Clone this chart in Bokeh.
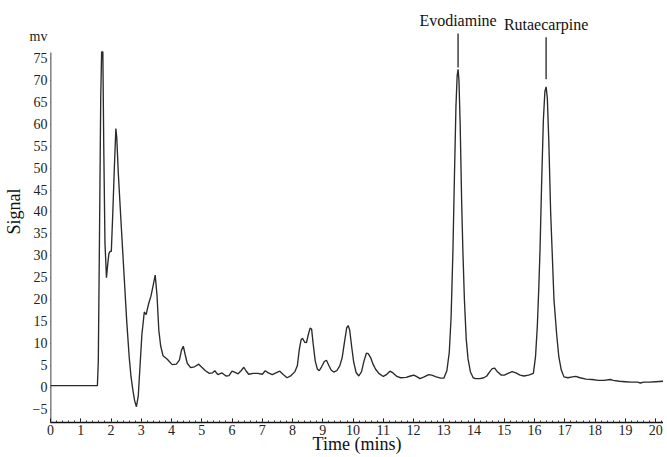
from bokeh.plotting import figure
from bokeh.models import Range1d, FixedTicker, LinearAxis
from bokeh.core.properties import value
from bokeh.embed import file_html
from bokeh.resources import INLINE

# ---- data: chromatogram trace (time in minutes, signal in mV) ----
time_min = [
    0.0, 1.55, 1.58, 1.62, 1.66, 1.69, 1.73, 1.76, 1.80, 1.85, 1.89, 1.93, 1.97, 2.01,
    2.06, 2.11, 2.16, 2.19, 2.24, 2.32, 2.42, 2.52, 2.60, 2.66, 2.72, 2.78, 2.84, 2.90,
    2.96, 3.02, 3.10, 3.16, 3.24, 3.32, 3.40, 3.46, 3.52, 3.58, 3.64, 3.72, 3.86, 4.02,
    4.16, 4.26, 4.33, 4.39, 4.45, 4.52, 4.63, 4.76, 4.90, 5.00, 5.12, 5.25, 5.35, 5.43,
    5.53, 5.67, 5.80, 5.90, 6.00, 6.10, 6.20, 6.30, 6.39, 6.46, 6.55, 6.70, 6.85, 7.00,
    7.10, 7.20, 7.33, 7.45, 7.58, 7.70, 7.82, 7.95, 8.08, 8.16, 8.22, 8.28, 8.33, 8.40,
    8.46, 8.52, 8.58, 8.63, 8.68, 8.75, 8.82, 8.88, 8.96, 9.05, 9.12, 9.20, 9.28, 9.36,
    9.46, 9.56, 9.64, 9.72, 9.79, 9.84, 9.89, 9.95, 10.02, 10.10, 10.19, 10.28, 10.36,
    10.44, 10.50, 10.58, 10.66, 10.74, 10.85, 11.00, 11.10, 11.22, 11.32, 11.45, 11.57,
    11.75, 11.90, 12.01, 12.12, 12.21, 12.35, 12.50, 12.60, 12.75, 12.90, 13.00, 13.10,
    13.18, 13.24, 13.30, 13.35, 13.40, 13.44, 13.47, 13.50, 13.54, 13.59, 13.63, 13.68,
    13.74, 13.80, 13.88, 13.97, 14.05, 14.20, 14.32, 14.42, 14.52, 14.60, 14.68, 14.78,
    14.90, 15.00, 15.12, 15.26, 15.38, 15.52, 15.65, 15.80, 15.96, 16.03, 16.09, 16.14,
    16.18, 16.23, 16.29, 16.34, 16.38, 16.42, 16.47, 16.53, 16.58, 16.64, 16.73, 16.80,
    16.88, 16.97, 17.10, 17.25, 17.36, 17.50, 17.70, 17.90, 18.10, 18.30, 18.50, 18.60,
    18.80, 19.00, 19.20, 19.40, 19.50, 19.60, 19.80, 20.00, 20.26,
]
signal_mv = [
    0.4, 0.4, 6, 35, 66, 76.5, 76.5, 55, 33, 25, 28, 30.5, 31, 31,
    40, 50, 59, 57, 49, 39, 27, 15, 7, 2.5, -0.5, -3, -4.4, -2,
    5, 12, 17.2, 16.6, 19, 20.8, 23.5, 25.6, 21, 13, 9.5, 7.2, 6.4, 5.2,
    5.3, 6.2, 8.5, 9.4, 7.5, 5.5, 4.5, 4.7, 5.3, 4.6, 3.8, 3.2, 3.3, 3.8,
    2.9, 3.3, 2.6, 2.7, 3.7, 3.4, 3.1, 3.8, 4.6, 3.8, 3.0, 3.2, 3.2, 3.0,
    3.8, 3.3, 2.9, 3.3, 3.7, 2.9, 2.2, 2.7, 3.6, 5, 8.5, 10.8, 11.2, 10.3,
    10.2, 12, 13.5, 13.3, 10, 6, 4.2, 3.8, 4.7, 5.9, 6.2, 5, 3.9, 3.5,
    3.8, 4.9, 6.8, 10.5, 13.6, 14.1, 13, 9.5, 5.8, 3.4, 2.6, 3.6, 6,
    7.8, 7.7, 6.8, 5.3, 4.2, 3.2, 2.5, 2.9, 3.7, 3.3, 2.5, 2.2,
    2.3, 2.6, 2.8, 2.4, 2.0, 2.4, 2.9, 2.8, 2.4, 2.1, 2.1, 3.8,
    8, 16, 31, 48, 64, 71, 72.5, 70, 60, 42, 31, 20,
    11, 6.5, 3.5, 2.2, 2.0, 2.0, 2.2, 2.6, 3.6, 4.3, 4.4, 3.5,
    2.8, 2.8, 3.2, 3.6, 3.3, 2.8, 2.6, 2.8, 3.2, 7.0, 14, 23,
    31.6, 46, 61, 67.5, 68.5, 66, 56, 40, 31, 20, 12, 7,
    4, 2.4, 2.2, 2.4, 2.5, 2.2, 1.9, 1.8, 1.6, 1.6, 1.8, 1.6,
    1.4, 1.3, 1.2, 1.2, 1.0, 1.2, 1.2, 1.3, 1.4,
]

# ---- peak annotations ----
peak_names = ["Evodiamine", "Rutaecarpine"]
peak_times = [13.47, 16.38]

x_ticks = list(range(0, 21))
y_ticks = list(range(-5, 80, 5))
unit_label = "mv"

FONT = "Liberation Serif"
Y_MIN, Y_AXIS_TOP, Y_MAX = -8.0, 76.4, 88.2
X_MAX = 20.26
UNIT_POS = 80

p = figure(width=663, height=457,
           x_range=Range1d(0, X_MAX), y_range=Range1d(Y_MIN, Y_MAX),
           output_backend="svg", toolbar_location=None,
           min_border_left=50, min_border_right=0, min_border_top=0,
           min_border_bottom=35)
p.outline_line_color = None
p.grid.visible = False
p.background_fill_color = "white"

p.line(time_min, signal_mv, line_color="#2a2a2a", line_width=1.35)

# annotation lines and names
text_y = [83.65, 82.75]
line_top = [80.7, 79.8]
line_bot = [72.95, 70.25]
p.segment(x0=peak_times, y0=line_bot, x1=peak_times, y1=line_top,
          line_color="#222222", line_width=1.3)
p.text(x=peak_times, y=text_y, text=peak_names,
       text_font=value(FONT), text_font_size="16px",
       text_align="center", text_baseline="middle", text_color="#111111")

# ---- x axis ----
xa = p.xaxis[0]
xa.ticker = FixedTicker(ticks=x_ticks,
                        minor_ticks=[i * 0.2 for i in range(0, 102)])
xa.axis_label = "Time (mins)"
xa.axis_line_color = "#111111"
xa.axis_line_width = 1.6
xa.major_tick_line_color = "#111111"
xa.minor_tick_line_color = "#333333"
xa.major_tick_in = 4
xa.major_tick_out = 0
xa.minor_tick_in = 2
xa.minor_tick_out = 0
xa.major_label_standoff = 2
xa.axis_label_standoff = -4

# ---- y axis: labels (incl. unit "mv") ----
ya = p.yaxis[0]
ya.ticker = FixedTicker(ticks=y_ticks + [UNIT_POS], minor_ticks=[])
ya.major_label_overrides = {UNIT_POS: unit_label}
ya.bounds = (Y_MIN, UNIT_POS + 1)
ya.axis_label = "Signal"
ya.axis_line_color = None
ya.major_tick_line_color = None
ya.major_tick_out = 2
ya.major_tick_in = 0
ya.minor_tick_in = 0
ya.minor_tick_out = 0
ya.major_label_standoff = 1
ya.axis_label_standoff = 3

# ---- y axis line + ticks at x = 0 (no labels of its own) ----
ya_line = LinearAxis(fixed_location=0,
                     ticker=FixedTicker(ticks=y_ticks, minor_ticks=[]),
                     bounds=(Y_MIN, Y_AXIS_TOP))
ya_line.major_label_overrides = {t: "" for t in y_ticks}
ya_line.axis_line_color = "#111111"
ya_line.axis_line_width = 1.6
ya_line.major_tick_line_color = "#111111"
ya_line.major_tick_out = 2
ya_line.major_tick_in = 0
ya_line.minor_tick_in = 0
ya_line.minor_tick_out = 0
ya_line.major_label_standoff = 0
p.add_layout(ya_line, "left")

for ax in (xa, ya):
    ax.major_label_text_font = FONT
    ax.major_label_text_font_size = "14px"
    ax.major_label_text_color = "#222222"
    ax.axis_label_text_font = FONT
    ax.axis_label_text_font_size = "18px"
    ax.axis_label_text_font_style = "normal"
    ax.axis_label_text_color = "#111111"

open("out.html", "w").write(file_html(p, INLINE))
